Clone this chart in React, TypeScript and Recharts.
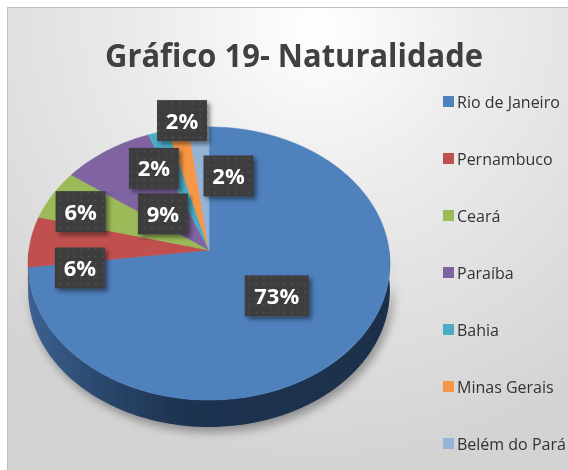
import React from 'react';
import { PieChart, Pie, Cell, Legend } from 'recharts';

const STATES = ['Rio de Janeiro', 'Pernambuco', 'Ceará', 'Paraíba', 'Bahia', 'Minas Gerais', 'Belém do Pará'];
const SHARES = [73, 6, 6, 9, 2, 2, 2];
const LABELS = ['73%', '6%', '6%', '9%', '2%', '2%', '2%'];
const COLORS = ['#4f81bd', '#c0504d', '#9bbb59', '#8064a2', '#4bacc6', '#f79646', '#95b3d7'];
const TITLE = 'Gráfico 19- Naturalidade';

const data = STATES.map((name, i) => ({ name, value: SHARES[i], label: LABELS[i] }));

// 3D look (perspective tilt) settings
const TILT = 0.751;
const PERSP = 0.0989;
const DEPTH = 27;
// label placement: [angle nudge (deg), radius fraction]
const LABEL_SPOTS: [number, number][] = [
  [-0.6, 0.49],
  [14.1, 0.72],
  [3.5, 0.79],
  [6, 0.38],
  [8.9, 0.72],
  [-1.9, 1.07],
  [-14.8, 0.59],
];

const FONT = '"Open Sans", "DejaVu Sans", sans-serif';

function proj(cx: number, cy: number, R: number, aDeg: number, r: number, dy = 0): [number, number] {
  const a = (aDeg * Math.PI) / 180;
  const u = r * Math.cos(a);
  const v = r * Math.sin(a);
  const d = 1 + PERSP * v;
  return [cx + (R * u) / d, cy - (R * TILT * v) / d + dy];
}

function arcPoints(cx: number, cy: number, R: number, a0: number, a1: number, dy = 0): [number, number][] {
  const n = Math.max(4, Math.ceil(Math.abs(a1 - a0) / 1));
  const pts: [number, number][] = [];
  for (let i = 0; i <= n; i++) {
    pts.push(proj(cx, cy, R, a0 + ((a1 - a0) * i) / n, 1, dy));
  }
  return pts;
}

function shade(hex: string, f: number) {
  const n = parseInt(hex.slice(1), 16);
  const r = Math.round(((n >> 16) & 255) * f);
  const g = Math.round(((n >> 8) & 255) * f);
  const b = Math.round((n & 255) * f);
  return `rgb(${r},${g},${b})`;
}

const renderWall = (p: any) => {
  const { cx, cy, outerRadius, startAngle, endAngle, index } = p;
  const lo = Math.min(startAngle, endAngle);
  const hi = Math.max(startAngle, endAngle);
  const parts: React.ReactNode[] = [];
  for (let k = -1; k <= 1; k++) {
    const f0 = -180 + 360 * k;
    const f1 = 360 * k;
    const a0 = Math.max(lo, f0);
    const a1 = Math.min(hi, f1);
    if (a1 - a0 > 0.01) {
      const top = arcPoints(cx, cy, outerRadius, a0, a1);
      const bot = arcPoints(cx, cy, outerRadius, a1, a0, DEPTH);
      const pts = [...top, ...bot];
      const d = 'M' + pts.map((q) => `${q[0].toFixed(2)},${q[1].toFixed(2)}`).join('L') + 'Z';
      parts.push(
        <path
          key={k}
          d={d}
          fill={index === 0 ? 'url(#wallBlue)' : shade(COLORS[index], 0.5)}
          filter="url(#pieShadow)"
        />
      );
    }
  }
  return (
    <g>
      {index === 0 && (
        <defs>
          <linearGradient id="wallBlue" gradientUnits="userSpaceOnUse" x1={cx - outerRadius} y1={0} x2={cx + outerRadius} y2={0}>
            <stop offset="0" stopColor="#3d6190" />
            <stop offset="0.18" stopColor="#2c4a70" />
            <stop offset="0.4" stopColor="#1f3451" />
            <stop offset="1" stopColor="#1c2f4a" />
          </linearGradient>
          <filter id="pieShadow" x="-20%" y="-20%" width="140%" height="160%">
            <feDropShadow dx="3" dy="5" stdDeviation="5" floodColor="#000" floodOpacity="0.35" />
          </filter>
          <filter id="boxShadow" x="-30%" y="-30%" width="160%" height="160%">
            <feDropShadow dx="3" dy="3" stdDeviation="2" floodColor="#000" floodOpacity="0.45" />
          </filter>
          <pattern id="dots" width="7" height="7" patternUnits="userSpaceOnUse">
            <rect width="7" height="7" fill="#3e3e3e" />
            <circle cx="3.5" cy="3.5" r="1" fill="#4c4c4c" />
          </pattern>
        </defs>
      )}
      {parts}
    </g>
  );
};

const renderFace = (p: any) => {
  const { cx, cy, outerRadius, startAngle, endAngle, index } = p;
  const pts = arcPoints(cx, cy, outerRadius, startAngle, endAngle);
  const d = `M${cx},${cy}L` + pts.map((q) => `${q[0].toFixed(2)},${q[1].toFixed(2)}`).join('L') + 'Z';
  return <path d={d} fill={COLORS[index]} stroke={COLORS[index]} strokeWidth={0.6} />;
};

const renderBox = (p: any) => {
  const { cx, cy, outerRadius, midAngle, index } = p;
  const [nudge, rf] = LABEL_SPOTS[index];
  const [x, y] = proj(cx, cy, outerRadius, midAngle + nudge, rf);
  const text = data[index].label;
  const w = 14 * text.length + 22;
  const h = 41;
  return (
    <g>
      <rect x={x - w / 2} y={y - h / 2} width={w} height={h} fill="url(#dots)" filter="url(#boxShadow)" />
      <text
        x={x}
        y={y + 8}
        textAnchor="middle"
        fill="#ffffff"
        fontFamily={FONT}
        fontWeight={700}
        fontSize={22}
      >
        {text}
      </text>
    </g>
  );
};

const renderLegend = () => (
  <div style={{ fontFamily: FONT, fontSize: 16, color: '#333333' }}>
    {STATES.map((s, i) => (
      <div key={s} style={{ display: 'flex', alignItems: 'center', height: 57, whiteSpace: 'nowrap' }}>
        <span style={{ display: 'inline-block', width: 11, height: 11, background: COLORS[i], marginRight: 3 }} />
        <span>{s}</span>
      </div>
    ))}
  </div>
);

export default function App() {
  const CX = 201;
  const CY = 242;
  const R = 180;
  return (
    <div
      style={{
        position: 'fixed',
        left: 7,
        top: 7,
        width: 562,
        height: 464,
        borderTop: '1px solid #bfbfbf',
        borderLeft: '1px solid #bfbfbf',
        overflow: 'hidden',
        background: 'radial-gradient(ellipse 80% 95% at 55% 4%, #ffffff 0%, #ededed 35%, #d3d3d3 100%)',
      }}
    >
      <div style={{ position: 'absolute', left: 0, top: 0 }}>
        <PieChart width={560} height={462} margin={{ top: 0, right: 0, bottom: 0, left: 0 }}>
          <Pie
            data={data}
            dataKey="value"
            nameKey="name"
            cx={CX}
            cy={CY}
            outerRadius={R}
            startAngle={90}
            endAngle={-270}
            stroke="none"
            isAnimationActive={false}
            label={renderWall}
            labelLine={false}
          >
            {data.map((d, i) => (
              <Cell key={d.name} fill={COLORS[i]} fillOpacity={0} stroke="none" />
            ))}
          </Pie>
          <Pie
            data={data}
            dataKey="value"
            nameKey="name"
            cx={CX}
            cy={CY}
            outerRadius={R}
            startAngle={90}
            endAngle={-270}
            stroke="none"
            fill="transparent"
            legendType="none"
            isAnimationActive={false}
            label={renderFace}
            labelLine={false}
          />
          <Pie
            data={data}
            dataKey="value"
            nameKey="name"
            cx={CX}
            cy={CY}
            outerRadius={R}
            startAngle={90}
            endAngle={-270}
            stroke="none"
            fill="transparent"
            legendType="none"
            isAnimationActive={false}
            label={renderBox}
            labelLine={false}
          />
          <Legend
            layout="vertical"
            align="right"
            verticalAlign="top"
            content={renderLegend}
            wrapperStyle={{ left: 435, top: 65, right: 'auto', bottom: 'auto', width: 'auto' }}
          />
        </PieChart>
      </div>
      <svg width={560} height={90} style={{ position: 'absolute', left: 0, top: 0 }}>
        <text
          x={97}
          y={59}
          textLength={378}
          lengthAdjust="spacingAndGlyphs"
          fontFamily={FONT}
          fontWeight={700}
          fontSize={32}
          fill="#404040"
        >
          {TITLE}
        </text>
      </svg>
    </div>
  );
}
